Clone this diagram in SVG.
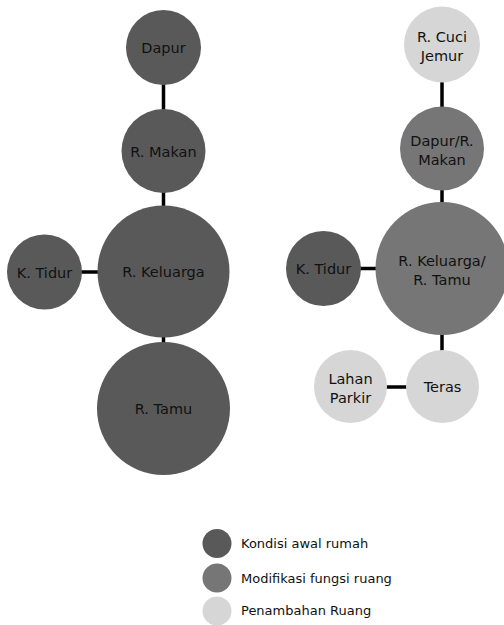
<svg xmlns="http://www.w3.org/2000/svg" width="504" height="625" viewBox="0 0 504 625">
<style>
.awal{fill:#595959}
.mod{fill:#767676}
.tam{fill:#d6d6d6}
.lbl{font-family:"DejaVu Sans",sans-serif;font-size:14.5px;fill:#111;text-anchor:middle}
.leg{font-family:"DejaVu Sans",sans-serif;font-size:13px;fill:#111}
.con{stroke:#000;stroke-width:3.5;fill:none}
</style>
<rect width="504" height="625" fill="#fff"/>
<g id="connectors">
<line class="con" x1="163.5" y1="84" x2="163.5" y2="110"/>
<line class="con" x1="163.5" y1="192" x2="163.5" y2="207"/>
<line class="con" x1="81" y1="272" x2="98" y2="272"/>
<line class="con" x1="163.5" y1="336" x2="163.5" y2="343"/>
<line class="con" x1="442" y1="81" x2="442" y2="108"/>
<line class="con" x1="442" y1="189" x2="442" y2="203"/>
<line class="con" x1="360" y1="268.5" x2="377" y2="268.5"/>
<line class="con" x1="442" y1="334" x2="442" y2="351"/>
<line class="con" x1="386" y1="387" x2="407" y2="387"/>
</g>
<g id="dapur"><circle class="awal" cx="163.5" cy="47.5" r="37.5"/><text class="lbl" x="163.5" y="53">Dapur</text></g>
<g id="r-makan"><circle class="awal" cx="163.5" cy="151" r="42"/><text class="lbl" x="163.5" y="156.5">R. Makan</text></g>
<g id="r-keluarga"><circle class="awal" cx="163.5" cy="271.5" r="66"/><text class="lbl" x="163.5" y="277">R. Keluarga</text></g>
<g id="k-tidur"><circle class="awal" cx="44.5" cy="272" r="37.5"/><text class="lbl" x="44.5" y="277.5">K. Tidur</text></g>
<g id="r-tamu"><circle class="awal" cx="163.5" cy="408.5" r="66.5"/><text class="lbl" x="163.5" y="414">R. Tamu</text></g>
<g id="r-cuci-jemur"><circle class="tam" cx="442" cy="44.5" r="38"/><text class="lbl" x="442" y="41.5">R. Cuci</text><text class="lbl" x="442" y="60.5">Jemur</text></g>
<g id="dapur-r-makan"><circle class="mod" cx="442" cy="148.5" r="42"/><text class="lbl" x="442" y="145.5">Dapur/R.</text><text class="lbl" x="442" y="164.5">Makan</text></g>
<g id="r-keluarga-r-tamu"><circle class="mod" cx="442" cy="268.5" r="66.5"/><text class="lbl" x="442" y="265.5">R. Keluarga/</text><text class="lbl" x="442" y="284.5">R. Tamu</text></g>
<g id="k-tidur-2"><circle class="awal" cx="323.5" cy="268.5" r="37.5"/><text class="lbl" x="323.5" y="274">K. Tidur</text></g>
<g id="teras"><circle class="tam" cx="442.5" cy="386.5" r="36.5"/><text class="lbl" x="442.5" y="392">Teras</text></g>
<g id="lahan-parkir"><circle class="tam" cx="350.5" cy="386.5" r="36.5"/><text class="lbl" x="350.5" y="383.5">Lahan</text><text class="lbl" x="350.5" y="402.5">Parkir</text></g>
<g id="legend">
<circle class="awal" cx="217" cy="543.5" r="14.5"/><text class="leg" x="241" y="548">Kondisi awal rumah</text>
<circle class="mod" cx="217" cy="578" r="14.5"/><text class="leg" x="241" y="582.5">Modifikasi fungsi ruang</text>
<circle class="tam" cx="217" cy="611" r="14.5"/><text class="leg" x="241" y="615">Penambahan Ruang</text>
</g>
</svg>
